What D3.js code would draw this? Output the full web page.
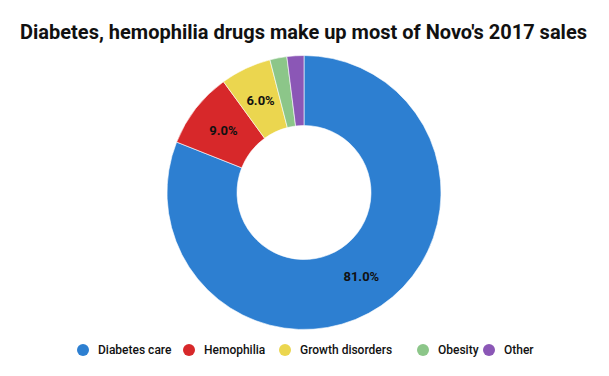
<!DOCTYPE html>
<html>
<head>
<meta charset="utf-8">
<script src="https://cdn.jsdelivr.net/npm/d3@7"></script>
<style>
  body { margin: 0; background: #fff; }
  text { font-family: Roboto, sans-serif; }
</style>
</head>
<body>
<svg id="chart"></svg>
<script>
const categories = ["Diabetes care", "Hemophilia", "Growth disorders", "Obesity", "Other"];
const shares = [81.0, 9.0, 6.0, 2.0, 2.0];
const colors = ["#2d7fd1", "#d7282a", "#ebd64f", "#8cc689", "#8b57b6"];

const W = 609, H = 376;
const cx = 304, cy = 192.5;
const outerR = 137, innerR = 67;

const svg = d3.select("#chart").attr("width", W).attr("height", H);

svg.append("text")
  .attr("x", W / 2 - 1)
  .attr("y", 39)
  .attr("text-anchor", "middle")
  .style("font-size", "20px")
  .style("font-weight", "bold")
  .attr("fill", "#111")
  .text("Diabetes, hemophilia drugs make up most of Novo's 2017 sales");

const data = categories.map((c, i) => ({ name: c, value: shares[i], color: colors[i] }));

const pie = d3.pie().value(d => d.value).sort(null);
const arc = d3.arc().innerRadius(innerR).outerRadius(outerR);

const g = svg.append("g").attr("transform", `translate(${cx},${cy})`);

const arcs = pie(data);

g.selectAll("path")
  .data(arcs)
  .enter().append("path")
  .attr("d", arc)
  .attr("fill", d => d.data.color)
  .attr("stroke", "#fff")
  .attr("stroke-width", 0.6);

// only label slices big enough
g.selectAll("text.lbl")
  .data(arcs.filter(d => d.data.value >= 5))
  .enter().append("text")
  .attr("class", "lbl")
  .attr("transform", d => `translate(${arc.centroid(d)})`)
  .attr("text-anchor", "middle")
  .attr("dy", "0.35em")
  .style("font-size", "13px")
  .style("font-weight", "bold")
  .attr("fill", "#111")
  .text(d => d.data.value.toFixed(1) + "%");

// legend
const legendX = [83, 189, 285, 423, 489];
const legend = svg.append("g").attr("transform", "translate(0,350)");
const items = legend.selectAll("g")
  .data(data)
  .enter().append("g")
  .attr("transform", (d, i) => `translate(${legendX[i]},0)`);

items.append("circle")
  .attr("r", 6)
  .attr("fill", d => d.color);

items.append("text")
  .attr("x", 15)
  .attr("dy", "0.35em")
  .style("font-size", "12px")
  .style("font-weight", 500)
  .attr("fill", "#111")
  .text(d => d.name);
</script>
</body>
</html>
